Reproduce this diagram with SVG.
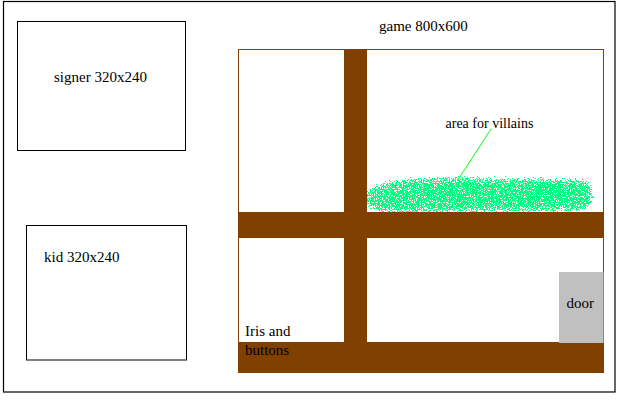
<svg xmlns="http://www.w3.org/2000/svg" width="619" height="408" viewBox="0 0 619 408">
<style>
.t{font-family:"Liberation Serif","Times New Roman",serif;font-size:15px;fill:#000}
.box{fill:#fff;stroke:#000;stroke-width:1}
.bar{fill:#804000}
</style>
<defs>
<filter id="spray" x="-10%" y="-60%" width="120%" height="220%" color-interpolation-filters="sRGB">
<feGaussianBlur in="SourceAlpha" stdDeviation="5" result="b"/>
<feTurbulence type="fractalNoise" baseFrequency="0.85" numOctaves="2" seed="7" result="t"/>
<feColorMatrix in="t" type="matrix" values="0 0 0 0 0 0 0 0 0 0 0 0 0 0 0 1 0 0 0 0" result="n"/>
<feComposite in="n" in2="b" operator="arithmetic" k1="1.2" k2="0" k3="0" k4="0" result="m"/>
<feComponentTransfer in="m" result="th"><feFuncA type="discrete" tableValues="0 0 0 0 0 1 1 1 1 1"/></feComponentTransfer>
<feFlood flood-color="#00FF80"/>
<feComposite operator="in" in2="th"/>
</filter>
</defs>
<rect x="0" y="0" width="619" height="408" fill="#fff"/>
<rect id="frame" x="3.5" y="1.5" width="611.5" height="390.5" fill="none" stroke="#000" stroke-width="1.2"/>
<g id="signer">
<rect class="box" x="17.5" y="21.5" width="168" height="129"/>
<text class="t" x="54" y="81.5">signer 320x240</text>
</g>
<g id="kid">
<rect class="box" x="26.5" y="225.5" width="160" height="134.5"/>
<text class="t" x="44" y="261.5">kid 320x240</text>
</g>
<g id="game">
<text class="t" x="379" y="31">game 800x600</text>
<rect x="238.5" y="49.5" width="365" height="322" fill="#fff" stroke="#804000" stroke-width="1"/>
<g id="villains">
<path d="M362 195 C362 182 400 175 450 175 L582 177 C600 178 600 213 582 213 L390 215 C370 215 362 206 362 195 Z" fill="#00FF80" filter="url(#spray)"/>
</g>
<rect class="bar" x="344" y="49" width="23" height="294"/>
<rect class="bar" x="238" y="212" width="366" height="26"/>
<rect class="bar" x="238" y="342" width="366" height="31"/>
<g id="door">
<rect x="559" y="272" width="44.5" height="71" fill="#C0C0C0"/>
<text class="t" x="566.5" y="307.5">door</text>
</g>
<text class="t" x="245" y="336">Iris and</text>
<text class="t" x="245" y="355">buttons</text>
</g>
<g id="connectors">
<line x1="491" y1="129" x2="457.5" y2="180.5" stroke="#00FF00" stroke-width="1"/>
</g>
<text class="t" style="font-size:14px" x="445.5" y="127.5">area for villains</text>
</svg>
